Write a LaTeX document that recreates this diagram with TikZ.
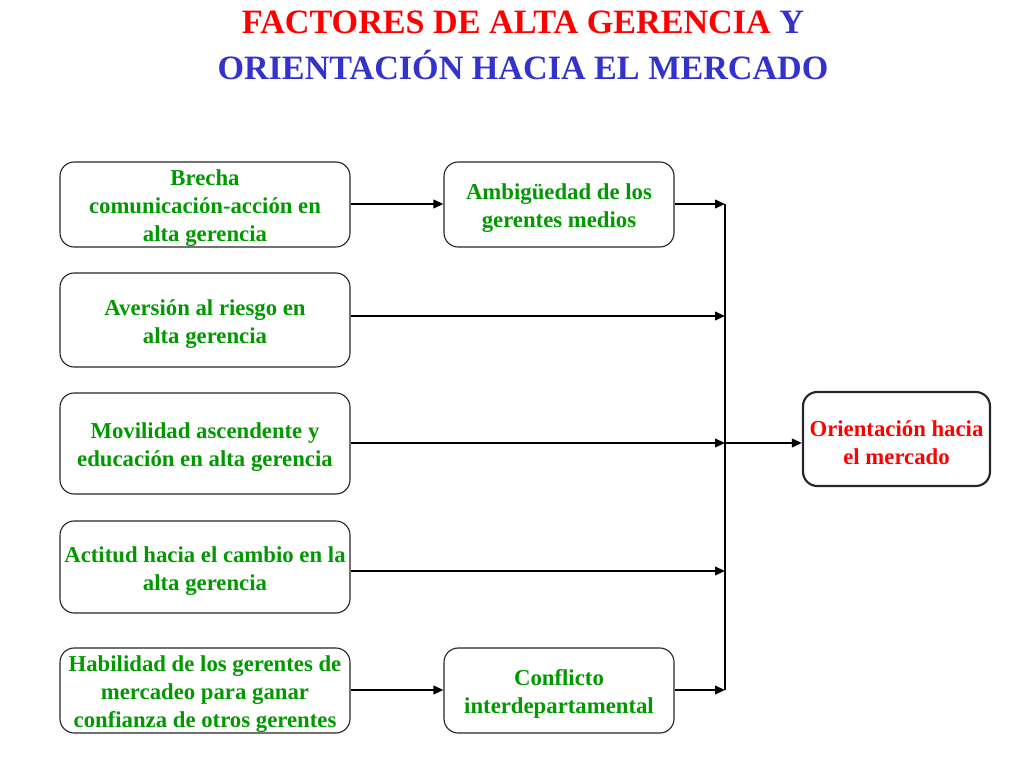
\documentclass[tikz,border=0pt]{standalone}
\usepackage{fontspec}
\setmainfont{Liberation Serif}
\usetikzlibrary{arrows.meta}

\definecolor{verde}{RGB}{0,153,0}
\definecolor{azul}{RGB}{51,51,204}
\definecolor{rojo}{RGB}{255,0,0}

\newcommand{\pxl}{0.703125pt}
\newcommand{\alto}{\rule{0pt}{16.5pt}}

\tikzset{
  caja/.style={draw=black!85, line width=0.8pt, rounded corners=10pt, align=center,
    font=\bfseries\fontsize{16}{19.5}\selectfont, text=verde, inner xsep=2pt, inner ysep=0pt},
  flecha/.style={line width=1.4pt, -{Triangle[length=7pt,width=6pt]}},
  linea/.style={line width=0.8pt}
}

\begin{document}
\begin{tikzpicture}[x=0.703125pt, y=-0.703125pt]
			\useasboundingbox (0,0) rectangle (1024,768);

			% Titel
			\node[font=\bfseries\fontsize{24}{32.5}\selectfont, align=center] (titulo) at (523,45)
				{\textcolor{rojo}{FACTORES DE ALTA GERENCIA} \textcolor{azul}{Y}\\
				 \textcolor{azul}{ORIENTACIÓN HACIA EL MERCADO}};

			% Linke Kaesten
			\node[caja, minimum width=290*\pxl, minimum height=85*\pxl] (brecha) at (205,204.5)
				{\alto Brecha\\comunicación-acción en\\alta gerencia};
			\node[caja, minimum width=290*\pxl, minimum height=94*\pxl] (aversion) at (205,320)
				{\alto Aversión al riesgo en\\alta gerencia};
			\node[caja, minimum width=290*\pxl, minimum height=101*\pxl] (movilidad) at (205,443.5)
				{\alto Movilidad ascendente y\\educación en alta gerencia};
			\node[caja, minimum width=290*\pxl, minimum height=92*\pxl] (actitud) at (205,567)
				{\alto Actitud hacia el cambio en la\\alta gerencia};
			\node[caja, minimum width=290*\pxl, minimum height=85*\pxl] (habilidad) at (205,690.5)
				{\alto Habilidad de los gerentes de\\mercadeo para ganar\\confianza de otros gerentes};

			% Mittlere Kaesten
			\node[caja, minimum width=230*\pxl, minimum height=85*\pxl] (ambiguedad) at (559,204.5)
				{\alto Ambigüedad de los\\gerentes medios};
			\node[caja, minimum width=230*\pxl, minimum height=85*\pxl] (conflicto) at (559,690.5)
				{\alto Conflicto\\interdepartamental};

			% Rechter Kasten
			\node[caja, line width=1.5pt, text=rojo, minimum width=187*\pxl, minimum height=94*\pxl] (orientacion) at (896.5,439)
				{\alto Orientación hacia\\el mercado};

			% Sammelpunkte auf der senkrechten Linie
			\coordinate (s1) at (725,204);
			\coordinate (s2) at (725,316);
			\coordinate (s3) at (725,443);
			\coordinate (s4) at (725,571);
			\coordinate (s5) at (725,690);

			% Senkrechte Linie
			\draw[linea] (s1) -- (s5);

			% Pfeile
			\draw[flecha] (brecha.east |- s1) -- (ambiguedad.west |- s1);
			\draw[flecha] (ambiguedad.east |- s1) -- (s1);
			\draw[flecha] (aversion.east |- s2) -- (s2);
			\draw[flecha] (movilidad.east |- s3) -- (s3);
			\draw[flecha] (actitud.east |- s4) -- (s4);
			\draw[flecha] (habilidad.east |- s5) -- (conflicto.west |- s5);
			\draw[flecha] (conflicto.east |- s5) -- (s5);
			\draw[flecha] (s3) -- (orientacion.west |- s3);
		\end{tikzpicture}
\end{document}
